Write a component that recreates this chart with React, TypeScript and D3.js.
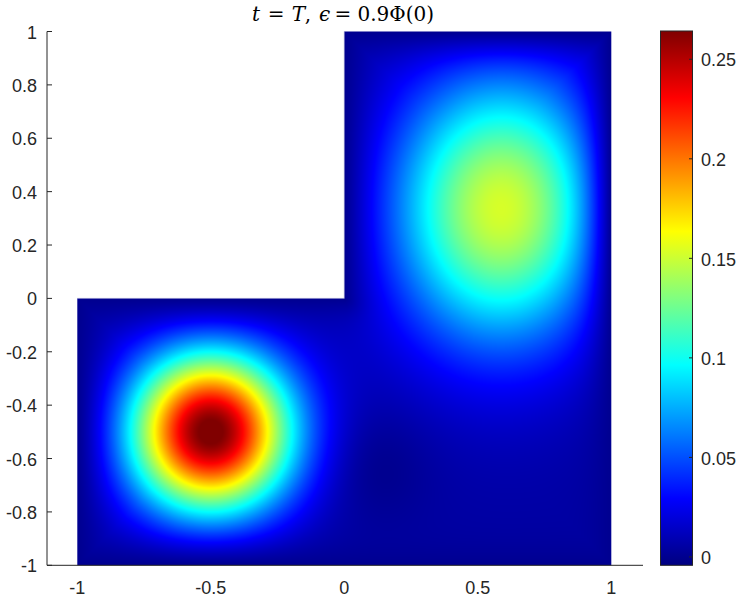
import React, { useMemo } from 'react';
import * as d3 from 'd3';

const W = 739;
const H = 598;

// tick values / labels
const xTicks = [-1, -0.5, 0, 0.5, 1];
const xTickLabels = ['-1', '-0.5', '0', '0.5', '1'];
const yTicks = [-1, -0.8, -0.6, -0.4, -0.2, 0, 0.2, 0.4, 0.6, 0.8, 1];
const yTickLabels = ['-1', '-0.8', '-0.6', '-0.4', '-0.2', '0', '0.2', '0.4', '0.6', '0.8', '1'];
const cbTicks = [0, 0.05, 0.1, 0.15, 0.2, 0.25];
const cbTickLabels = ['0', '0.05', '0.1', '0.15', '0.2', '0.25'];
const colorDomain = [-0.0042, 0.2642];

// title pieces (text, italic, anchor x)
const titleParts = ['t', '=', 'T', ',', 'ϵ', '=', '0.9Φ(0)'];
const titleItalic = [true, false, true, false, true, false, false];
const titleX = [256, 276.2, 298.5, 308, 324.5, 343, 357.5];
const titleAnchor = ['middle', 'middle', 'middle', 'middle', 'middle', 'middle', 'start'];

// field: two bumps, a shallow trough, a small floor
const blobCx = [-0.5, 0.588];
const blobCy = [-0.5, 0.336];
const blobAmp = [0.265, 0.148];
const blobSx = [0.21, 0.28];
const blobSy = [0.21, 0.35];
const troughCx = [0.1];
const troughCy = [-0.62];
const troughAmp = [-0.008];
const troughS = [0.15];
const floorValue = 0.005;
const wallWidth = 0.1;

const clamp = (v: number) => Math.max(0, Math.min(1, v));
function jet(t: number): [number, number, number] {
  const r = clamp(1.5 - Math.abs(4 * t - 3));
  const g = clamp(1.5 - Math.abs(4 * t - 2));
  const b = clamp(1.5 - Math.abs(4 * t - 1));
  return [r, g, b];
}
const jetCss = (t: number) => {
  const [r, g, b] = jet(t);
  return d3.rgb(r * 255, g * 255, b * 255).formatHex();
};

function inDomain(x: number, y: number) {
  if (x < -1 || x > 1 || y < -1 || y > 1) return false;
  return !(x < 0 && y > 0);
}
function wallDist(x: number, y: number) {
  const d = Math.min(x + 1, 1 - x, y + 1, 1 - y);
  let dq: number;
  if (x > 0 && y < 0) dq = Math.hypot(x, y);
  else if (x > 0) dq = x;
  else dq = -y;
  return Math.min(d, dq);
}
function field(x: number, y: number) {
  let v = floorValue;
  for (let i = 0; i < blobCx.length; i++) {
    const dx = (x - blobCx[i]) / blobSx[i];
    const dy = (y - blobCy[i]) / blobSy[i];
    v += blobAmp[i] * Math.exp(-0.5 * (dx * dx + dy * dy));
  }
  for (let i = 0; i < troughCx.length; i++) {
    const dx = (x - troughCx[i]) / troughS[i];
    const dy = (y - troughCy[i]) / troughS[i];
    v += troughAmp[i] * Math.exp(-0.5 * (dx * dx + dy * dy));
  }
  const w = Math.tanh(wallDist(x, y) / wallWidth);
  return v * w;
}

const xScale = d3.scaleLinear().domain([-1, 1]).range([77.3, 611.3]);
const yScale = d3.scaleLinear().domain([-1, 1]).range([565.3, 31.5]);
const cScale = d3.scaleLinear().domain(colorDomain).range([0, 1]).clamp(true);
const cbY = d3.scaleLinear().domain(colorDomain).range([565.3, 31]);

const axisColor = '#262626';
const font = '"Liberation Sans", Arial, Helvetica, sans-serif';
const serif = '"DejaVu Serif", serif';

export default function App() {
  const img = useMemo(() => {
    const x0 = xScale(-1), x1 = xScale(1), y0 = yScale(1), y1 = yScale(-1);
    const w = Math.round(x1 - x0), h = Math.round(y1 - y0);
    const canvas = document.createElement('canvas');
    canvas.width = w;
    canvas.height = h;
    const ctx = canvas.getContext('2d')!;
    const data = ctx.createImageData(w, h);
    for (let j = 0; j < h; j++) {
      const y = yScale.invert(y0 + (j + 0.5) * (y1 - y0) / h);
      for (let i = 0; i < w; i++) {
        const x = xScale.invert(x0 + (i + 0.5) * (x1 - x0) / w);
        const k = (j * w + i) * 4;
        if (!inDomain(x, y)) { data.data[k + 3] = 0; continue; }
        const [r, g, b] = jet(cScale(field(x, y)));
        data.data[k] = Math.round(r * 255);
        data.data[k + 1] = Math.round(g * 255);
        data.data[k + 2] = Math.round(b * 255);
        data.data[k + 3] = 255;
      }
    }
    ctx.putImageData(data, 0, 0);
    return { href: canvas.toDataURL(), x: x0, y: y0, w: x1 - x0, h: y1 - y0 };
  }, []);

  const stops = d3.range(0, 1.0001, 1 / 64);
  const cbX0 = 660.5, cbX1 = 692.5;
  const axLeft = 47, axRight = 643, axBottom = 565.3, axTop = 31.5;

  return (
    <svg width={W} height={H} style={{ position: 'absolute', left: 0, top: 0, background: '#fff' }}>
      <defs>
        <linearGradient id="jetGrad" x1="0" y1="1" x2="0" y2="0">
          {stops.map((s, i) => (
            <stop key={i} offset={s} stopColor={jetCss(s)} />
          ))}
        </linearGradient>
      </defs>
      <rect x={0} y={0} width={W} height={H} fill="#fff" />
      {yTicks.map((t, i) => (
        <line key={'yt' + i} x1={axLeft} x2={axLeft + 5} y1={yScale(t)} y2={yScale(t)} stroke={axisColor} strokeWidth={1} />
      ))}
      <image href={img.href} x={img.x} y={img.y} width={img.w} height={img.h} preserveAspectRatio="none" />
      <path
        d={`M${xScale(-1)},${yScale(0)}H${xScale(0)}V${yScale(1)}`}
        fill="none"
        stroke="#8c8cc8"
        strokeWidth={0.8}
        opacity={0.7}
      />
      <line x1={axLeft} x2={axLeft} y1={axTop} y2={axBottom} stroke={axisColor} strokeWidth={1} />
      <line x1={axLeft} x2={axRight} y1={axBottom} y2={axBottom} stroke={axisColor} strokeWidth={1} />
      {yTicks.map((t, i) => (
        <text key={'yl' + i} x={37} y={yScale(t) + 7} textAnchor="end" fontFamily={font} fontSize={18} fill={axisColor}>
          {yTickLabels[i]}
        </text>
      ))}
      {xTicks.map((t, i) => (
        <text key={'xl' + i} x={xScale(t)} y={594} textAnchor="middle" fontFamily={font} fontSize={18} fill={axisColor}>
          {xTickLabels[i]}
        </text>
      ))}
      {titleParts.map((p, i) => (
        <text
          key={'tt' + i}
          x={titleX[i]}
          y={20.5}
          textAnchor={titleAnchor[i] as any}
          fontFamily={serif}
          fontSize={20}
          fontStyle={titleItalic[i] ? 'italic' : 'normal'}
          fill="#000"
        >
          {p}
        </text>
      ))}
      <rect x={cbX0} y={cbY(colorDomain[1])} width={cbX1 - cbX0} height={cbY(colorDomain[0]) - cbY(colorDomain[1])} fill="url(#jetGrad)" stroke={axisColor} strokeWidth={1} />
      {cbTicks.map((t, i) => (
        <g key={'cb' + i}>
          <line x1={cbX1 - 3.5} x2={cbX1} y1={cbY(t)} y2={cbY(t)} stroke={axisColor} strokeWidth={1} />
          <text x={701} y={cbY(t) + 7.2} fontFamily={font} fontSize={18} fill={axisColor}>
            {cbTickLabels[i]}
          </text>
        </g>
      ))}
    </svg>
  );
}
